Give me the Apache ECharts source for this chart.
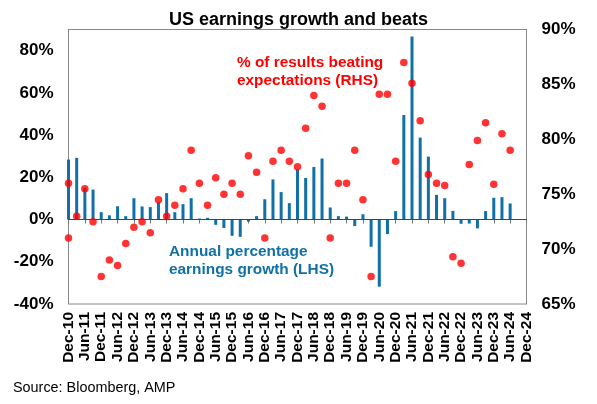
<!DOCTYPE html>
<html>
<head>
<meta charset="utf-8">
<script src="https://cdn.jsdelivr.net/npm/echarts@6/dist/echarts.min.js"></script>
<style>
  html, body { margin: 0; padding: 0; background: #fff; }
  #main { width: 597px; height: 404px; }
</style>
</head>
<body>
<div id="main"></div>
<script>
// quarterly dates, Dec-10 .. Dec-24
var quarters = [
  'Dec-10','Mar-11','Jun-11','Sep-11','Dec-11','Mar-12','Jun-12','Sep-12',
  'Dec-12','Mar-13','Jun-13','Sep-13','Dec-13','Mar-14','Jun-14','Sep-14',
  'Dec-14','Mar-15','Jun-15','Sep-15','Dec-15','Mar-16','Jun-16','Sep-16',
  'Dec-16','Mar-17','Jun-17','Sep-17','Dec-17','Mar-18','Jun-18','Sep-18',
  'Dec-18','Mar-19','Jun-19','Sep-19','Dec-19','Mar-20','Jun-20','Sep-20',
  'Dec-20','Mar-21','Jun-21','Sep-21','Dec-21','Mar-22','Jun-22','Sep-22',
  'Dec-22','Mar-23','Jun-23','Sep-23','Dec-23','Mar-24','Jun-24','Sep-24',
  'Dec-24'
];

// annual % earnings growth (LHS)
var growth = [
  28.4, 29.2, 15, 14.2, 3.5, 2, 6.3, 1.6, 10.1, 6.2, 5.9, 8.2, 12.5, 3.5,
  7.3, 10.1, 0.5, 0.8, -2.5, -4, -7.7, -8.2, -1, 1.6, 9.6, 19, 13, 7.8,
  23.7, 19.7, 24.9, 28.9, 5.7, 1.6, 1.4, -3.1, 2.5, -12.9, -31.8, -6.9,
  4, 49.5, 86.7, 38.8, 29.8, 11.7, 10.1, 4.1, -2, -1.9, -4.2, 4, 10.3,
  10.6, 7.6
];

// % of results beating expectations (RHS)
var beats = [
  76.0, 73.0, 75.5, 72.5, 67.5, 69.0, 68.5, 70.5, 72.0, 72.5, 71.5, 74.5,
  73.0, 74.0, 75.5, 79.0, 76.0, 74.0, 76.5, 75.0, 76.0, 75.0, 78.5, 77.0,
  71.0, 78.0, 79.0, 78.0, 77.5, 81.0, 84.0, 83.0, 71.0, 76.0, 76.0, 79.0,
  74.5, 67.5, 84.1, 84.1, 78.0, 87.0, 85.1, 81.7, 76.8, 76.0, 75.8, 69.3,
  68.7, 77.7, 79.9, 81.5, 75.9, 80.5, 79.0
];
// earlier reading sitting on the left edge
var beatsEdge = [71.0];

var leftTicks = { min: -40, max: 90, step: 20 };
var rightTicks = { min: 65, max: 90, step: 5 };

var FONT = 'Liberation Sans, Arial, sans-serif';

var dots = beats.map(function (v, i) { return [i, v]; });
beatsEdge.forEach(function (v) { dots.push([0, v]); });

var myChart = echarts.init(document.getElementById('main'));

var option = {
  animation: false,
  textStyle: { fontFamily: FONT },
  title: {
    text: 'US earnings growth and beats',
    left: 'center',
    top: 6,
    textStyle: { fontFamily: FONT, fontSize: 18, fontWeight: 'bold', color: '#000' }
  },
  grid: {
    left: 68.5, right: 70.5, top: 29.5, bottom: 100,
    show: true, borderColor: '#888', borderWidth: 1
  },
  xAxis: {
    type: 'category',
    data: quarters,
    boundaryGap: false,
    axisLine: { lineStyle: { color: '#777' } },
    axisTick: { interval: 1, length: 4, lineStyle: { color: '#777' } },
    axisLabel: {
      interval: 1, rotate: 90, margin: 8,
      fontFamily: FONT, fontSize: 15.5, fontWeight: 'bold', color: '#000'
    },
    splitLine: { show: false }
  },
  yAxis: [{
    type: 'value',
    min: leftTicks.min, max: leftTicks.max, interval: leftTicks.step,
    axisLine: { show: true, lineStyle: { color: '#888' } },
    axisTick: { show: false },
    splitLine: { show: false },
    axisLabel: {
      margin: 15, fontFamily: FONT, fontSize: 17, fontWeight: 'bold', color: '#000',
      formatter: function (v) { return v === leftTicks.max ? '' : v + '%'; }
    }
  }, {
    type: 'value',
    min: rightTicks.min, max: rightTicks.max, interval: rightTicks.step,
    axisLine: { show: true, lineStyle: { color: '#888' } },
    axisTick: { show: false },
    splitLine: { show: false },
    axisLabel: {
      margin: 15, fontFamily: FONT, fontSize: 17, fontWeight: 'bold', color: '#000',
      formatter: '{value}%'
    }
  }],
  series: [{
    name: 'Annual percentage earnings growth (LHS)',
    type: 'bar',
    yAxisIndex: 0,
    data: growth,
    barWidth: 3,
    itemStyle: { color: '#1170A8' },
    markLine: {
      silent: true,
      symbol: 'none',
      label: { show: false },
      lineStyle: { color: '#444', width: 1, type: 'solid' },
      data: [{ yAxis: 0 }]
    }
  }, {
    name: '% of results beating expectations (RHS)',
    type: 'scatter',
    yAxisIndex: 1,
    data: dots,
    symbolSize: 7.5,
    itemStyle: { color: '#FF0000' },
    z: 5
  }],
  graphic: [{
    type: 'text', left: 237, top: 54,
    style: {
      text: '% of results beating\nexpectations (RHS)',
      fill: '#FF0000', font: 'bold 15.4px ' + FONT, lineHeight: 18
    }
  }, {
    type: 'text', left: 169, top: 243,
    style: {
      text: 'Annual percentage\nearnings growth (LHS)',
      fill: '#1170A8', font: 'bold 15.4px ' + FONT, lineHeight: 18
    }
  }, {
    type: 'text', left: 13, top: 381,
    style: {
      text: 'Source: Bloomberg, AMP',
      fill: '#000', font: '14.4px ' + FONT
    }
  }]
};

myChart.setOption(option);
</script>
</body>
</html>
